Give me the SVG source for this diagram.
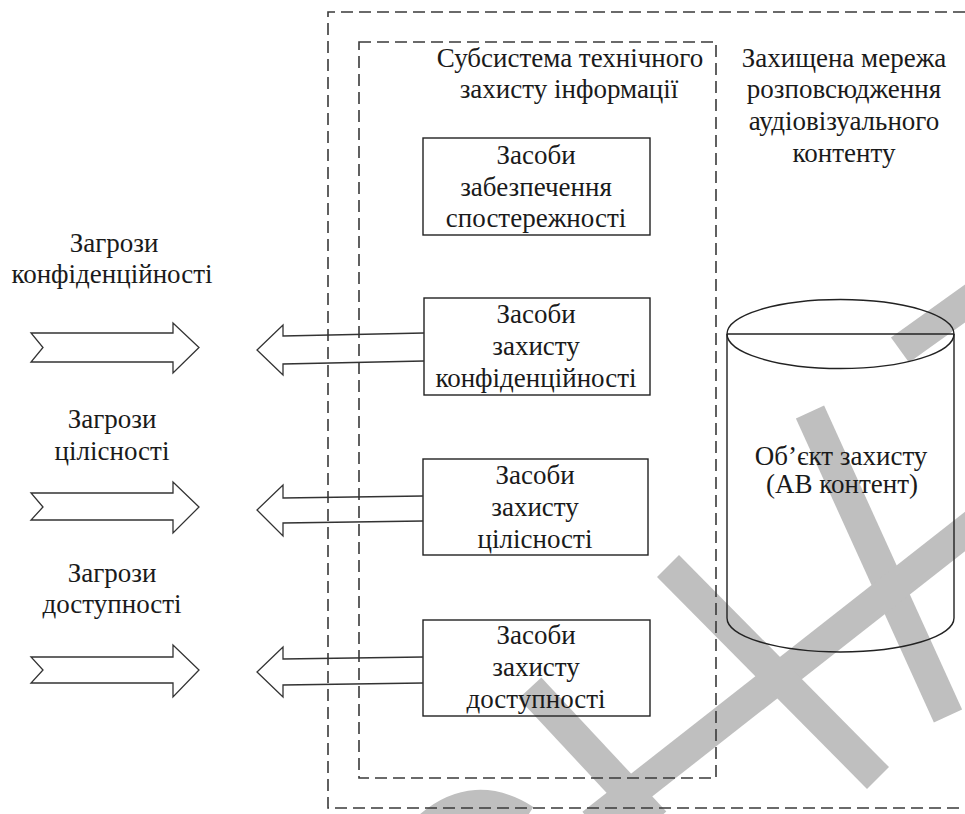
<svg xmlns="http://www.w3.org/2000/svg" width="965" height="814" viewBox="0 0 965 814">
<style>
  .t { font-family: "Liberation Serif", "Times New Roman", "DejaVu Serif", serif; font-size: 27px; fill: #1a1a1a; text-anchor: middle; }
  .box { fill: none; stroke: #222; stroke-width: 1.4; }
  .dash { fill: none; stroke: #3a3a3a; stroke-width: 1.6; stroke-dasharray: 12 6; }
  .arr { fill: none; stroke: #333; stroke-width: 1.3; stroke-linejoin: miter; }
  .wm { stroke: #bfbfbf; stroke-width: 31; stroke-linecap: butt; fill: none; }
</style>
<rect x="0" y="0" width="965" height="814" fill="#ffffff"/>
<g id="watermark">
  <line class="wm" x1="900" y1="350" x2="995" y2="282"/>
  <line class="wm" x1="810" y1="412" x2="948" y2="716"/>
  <line class="wm" x1="995" y1="508" x2="592" y2="824"/>
  <line class="wm" x1="668" y1="566" x2="878" y2="778"/>
  <line class="wm" x1="530" y1="688" x2="655" y2="822"/>
  <path class="wm" d="M430,826 Q475,788 525,820" stroke-width="22"/>
</g>
<g id="network">
  <path class="dash" d="M965,12 H328 V808 H965"/>
  <text class="t" x="844" y="67">Захищена мережа</text>
  <text class="t" x="844" y="98">розповсюдження</text>
  <text class="t" x="844" y="130">аудіовізуального</text>
  <text class="t" x="844" y="162">контенту</text>
</g>
<g id="subsystem">
  <rect class="dash" x="359" y="42" width="357" height="736"/>
  <text class="t" x="570" y="67">Субсистема технічного</text>
  <text class="t" x="569" y="98">захисту інформації</text>
</g>
<g id="observability">
  <rect class="box" x="423" y="138" width="227" height="97"/>
  <text class="t" x="536" y="164">Засоби</text>
  <text class="t" x="536" y="196">забезпечення</text>
  <text class="t" x="536" y="227">спостережності</text>
</g>
<g id="confidentiality">
  <rect class="box" x="424" y="298" width="226" height="97"/>
  <text class="t" x="536" y="323">Засоби</text>
  <text class="t" x="536" y="355">захисту</text>
  <text class="t" x="536" y="387">конфіденційності</text>
</g>
<g id="integrity">
  <rect class="box" x="423" y="459" width="225" height="96"/>
  <text class="t" x="535" y="484">Засоби</text>
  <text class="t" x="535" y="516">захисту</text>
  <text class="t" x="535" y="548">цілісності</text>
</g>
<g id="availability">
  <rect class="box" x="423" y="620" width="227" height="96"/>
  <text class="t" x="536" y="644">Засоби</text>
  <text class="t" x="536" y="676">захисту</text>
  <text class="t" x="536" y="708">доступності</text>
</g>
<g id="object">
  <ellipse class="box" cx="840.5" cy="334" rx="113.5" ry="34.5"/>
  <line class="box" x1="727" y1="334" x2="954" y2="334"/>
  <path class="box" d="M727,334 V618 A113.5,34 0 0 0 954,618 V334"/>
  <text class="t" x="841" y="465">Об’єкт захисту</text>
  <text class="t" x="842" y="493">(АВ контент)</text>
</g>
<g id="threat-labels">
  <text class="t" x="114" y="252">Загрози</text>
  <text class="t" x="112" y="283">конфіденційності</text>
  <text class="t" x="112" y="428">Загрози</text>
  <text class="t" x="112" y="460">цілісності</text>
  <text class="t" x="112" y="582">Загрози</text>
  <text class="t" x="112" y="613">доступності</text>
</g>
<g id="connectors">
  <polygon class="arr" points="31,333 173,333 173,323 199,347.5 173,373 173,362 31,362 43,347.5"/>
  <polygon class="arr" points="31,493 173,493 173,482 199,507 173,533 173,520 31,520 43,507"/>
  <polygon class="arr" points="31,657 173,657 173,645 199,670 173,697 173,683 31,683 43,670"/>
  <polyline class="arr" points="424,333 283,336 283,325 257,350 283,375 283,364 424,361"/>
  <polyline class="arr" points="423,496 283,498 283,485 257,510 283,536 283,523 423,521"/>
  <polyline class="arr" points="423,657 283,659 283,647 257,672 283,697 283,685 423,683"/>
</g>
</svg>
